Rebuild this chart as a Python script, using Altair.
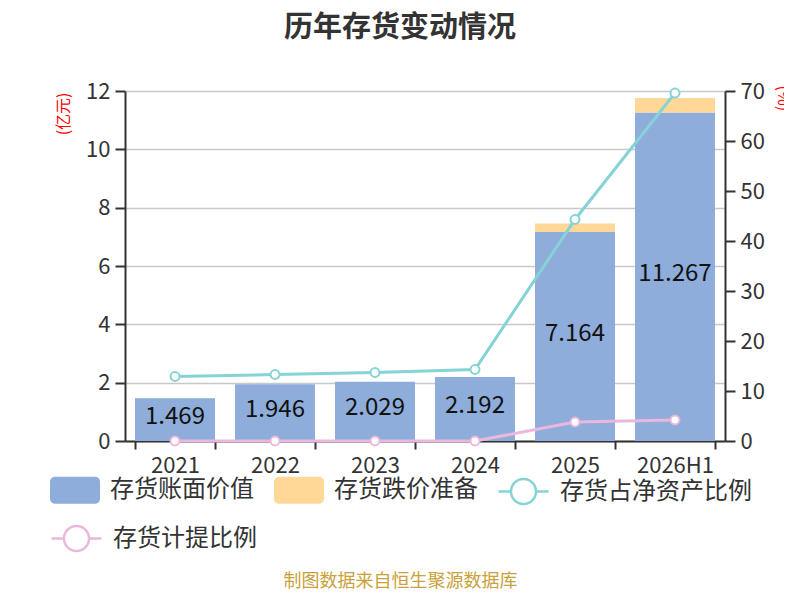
import altair as alt
import pandas as pd

# ---- data ----
years = ["2021", "2022", "2023", "2024", "2025", "2026H1"]
book_value = [1.469, 1.946, 2.029, 2.192, 7.164, 11.267]      # 存货账面价值 (亿元)
impairment = [0.0, 0.0, 0.0, 0.0, 0.29, 0.49]                  # 存货跌价准备 (亿元)
inv_to_net_assets = [12.9, 13.3, 13.7, 14.3, 44.3, 69.6]       # 存货占净资产比例 (%)
provision_ratio = [0.0, 0.0, 0.0, 0.0, 3.8, 4.2]               # 存货计提比例 (%)

bar_names = ["存货账面价值", "存货跌价准备"]
line_names = ["存货占净资产比例", "存货计提比例"]
left_ticks = [0, 2, 4, 6, 8, 10, 12]
right_ticks = [0, 10, 20, 30, 40, 50, 60, 70]

FONT = "Noto Sans CJK SC"
BLUE, ORANGE = "#8eadda", "#ffd898"
CYAN, PINK = "#86d3d6", "#e9b8dc"
TXT = "#333333"

RECT = ("M-0.8,-0.54 L0.8,-0.54 A0.2,0.2 0 0 1 1,-0.34 L1,0.34 "
        "A0.2,0.2 0 0 1 0.8,0.54 L-0.8,0.54 A0.2,0.2 0 0 1 -1,0.34 "
        "L-1,-0.34 A0.2,0.2 0 0 1 -0.8,-0.54 Z")
LINE_CIRCLE = ("M-1,0 L-0.5,0 M0.5,0 L1,0 M0.5,0 "
               "A0.5,0.5 0 1 1 -0.5,0 A0.5,0.5 0 1 1 0.5,0 Z")

bars_df = pd.DataFrame({
    "year": years * 2,
    "series": [bar_names[0]] * len(years) + [bar_names[1]] * len(years),
    "value": book_value + impairment,
    "order": [0] * len(years) + [1] * len(years),
})
book_df = pd.DataFrame({"year": years, "value": book_value})
cyan_df = pd.DataFrame({"year": years, "value": inv_to_net_assets, "series": line_names[0]})
pink_df = pd.DataFrame({"year": years, "value": provision_ratio, "series": line_names[1]})

x_scale = alt.Scale(domain=years, paddingInner=0.2, paddingOuter=0.1)
x_axis = alt.Axis(
    title="制图数据来自恒生聚源数据库", labelAngle=0, labelFontSize=22, labelColor=TXT,
    labelFont=FONT, labelPadding=6, tickBand="extent", tickSize=8, tickColor=TXT,
    tickWidth=2, domainColor=TXT, domainWidth=2, grid=False,
    titleX=275, titleY=140, titleAlign="center", titleBaseline="middle", titleAngle=0,
    titleFontSize=18, titleFontWeight="normal", titleColor="#c9a13a", titleFont=FONT,
)
X = alt.X("year:N", sort=years, scale=x_scale, axis=x_axis)

left_scale = alt.Scale(domain=[0, 12], nice=False)
left_axis = alt.Axis(
    title="(亿元)", values=left_ticks, orient="left", grid=True, gridColor="#c8c8c8",
    gridWidth=1.5, domainColor=TXT, domainWidth=2, tickColor=TXT, tickWidth=2,
    tickSize=10, labelFontSize=22, labelColor=TXT, labelFont=FONT, labelPadding=5,
    titleColor="red", titleFontSize=16, titleFontWeight="normal", titleFont=FONT,
    titleAngle=-90, titleX=-62, titleY=1, titleAlign="right", titleBaseline="middle",
)
right_scale = alt.Scale(domain=[0, 70], nice=False)
right_axis = alt.Axis(
    title="(%)", values=right_ticks, orient="right", grid=False, domainColor=TXT,
    domainWidth=2, tickColor=TXT, tickWidth=2, tickSize=10, labelFontSize=22,
    labelColor=TXT, labelFont=FONT, labelPadding=5,
    titleColor="red", titleFontSize=16, titleFontWeight="normal", titleFont=FONT,
    titleAngle=90, titleX=57, titleY=-6, titleAlign="left", titleBaseline="middle",
)

common_legend = dict(
    orient="none", direction="horizontal", title=None, padding=0,
    labelFontSize=24, labelFont=FONT, labelColor=TXT, labelOffset=10,
    labelLimit=400, symbolSize=2500, columnPadding=20,
)

bars = alt.Chart(bars_df).mark_bar().encode(
    x=X,
    y=alt.Y("value:Q", stack="zero", scale=left_scale, axis=left_axis),
    fill=alt.Fill("series:N", scale=alt.Scale(domain=bar_names, range=[BLUE, ORANGE]),
                  sort=bar_names,
                  legend=alt.Legend(legendX=-75, legendY=374, symbolType=RECT,
                                    symbolStrokeWidth=0, symbolOpacity=1, **common_legend)),
    order=alt.Order("order:Q"),
)
labels = alt.Chart(book_df).transform_calculate(mid="datum.value / 2").mark_text(
    fontSize=24, font=FONT, color="#111111", baseline="middle", dy=-3
).encode(
    x=X,
    y=alt.Y("mid:Q", scale=left_scale, axis=left_axis),
    text=alt.Text("value:Q", format=".3f"),
)
left = alt.layer(bars, labels)


def line_layer(df, color, lx, ly):
    stroke = alt.Stroke(
        "series:N",
        scale=alt.Scale(domain=[df["series"].iloc[0]], range=[color]),
        legend=alt.Legend(legendX=lx, legendY=ly, symbolType=LINE_CIRCLE,
                          symbolStrokeWidth=2.5, symbolFillColor="white",
                          symbolStrokeColor=color, **common_legend),
    )
    y = alt.Y("value:Q", scale=right_scale, axis=right_axis)
    ln = alt.Chart(df).mark_line(strokeWidth=3).encode(x=X, y=y, stroke=stroke)
    pt = alt.Chart(df).mark_point(filled=True, fill="white", size=80, strokeWidth=2,
                                  opacity=1).encode(x=X, y=y, stroke=stroke)
    return alt.layer(ln, pt)


right = alt.layer(
    line_layer(cyan_df, CYAN, 372, 374),
    line_layer(pink_df, PINK, -75, 421),
).resolve_scale(stroke="independent")

chart = alt.layer(left, right).resolve_scale(y="independent").properties(
    width=600, height=350,
    title=alt.TitleParams(text="历年存货变动情况", fontSize=29, font=FONT,
                          fontWeight="bold", color=TXT, anchor="middle", dx=-25,
                          offset=37),
    padding={"left": 117, "top": 83, "right": 59, "bottom": 151},
    autosize=alt.AutoSizeParams(type="none"),
).configure_view(stroke=None)

chart.save("out.html", embed_options={"renderer": "svg", "actions": False})
